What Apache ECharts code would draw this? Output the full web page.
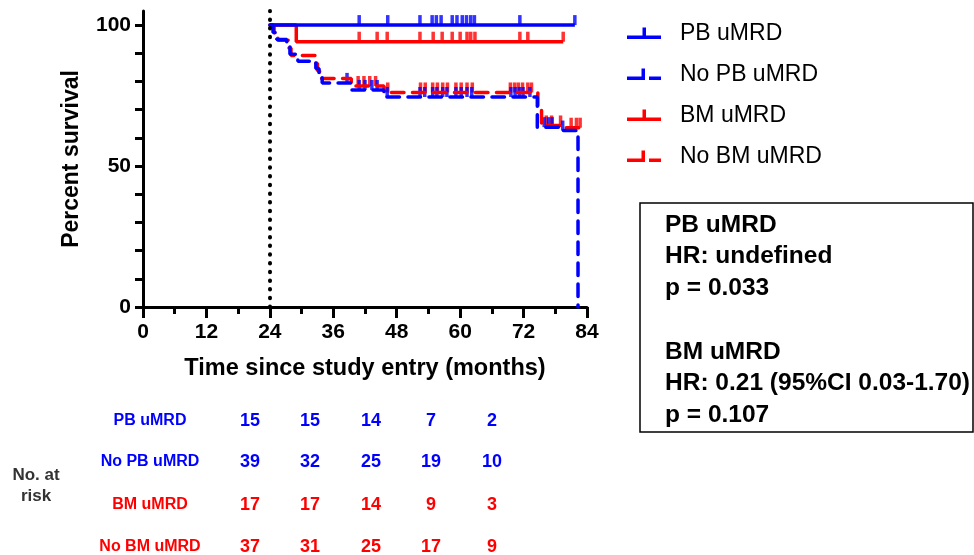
<!DOCTYPE html>
<html><head><meta charset="utf-8">
<script src="https://cdn.jsdelivr.net/npm/echarts@6/dist/echarts.min.js"></script>
<style>html,body{margin:0;padding:0;background:#fff}#c{width:974px;height:555px}</style>
</head><body><div id="c"></div>
<script>
const FONT = "'Liberation Sans', Arial, Helvetica, sans-serif";
const BLUE = '#0000ff', RED = '#ff0000';

// ---- axes ----
const xTickValues = [0, 12, 24, 36, 48, 60, 72, 84];
const yLabelValues = [0, 50, 100];
const yTickValues = [0, 10, 20, 30, 40, 50, 60, 70, 80, 90, 100];
const landmarkMonth = 24;

// ---- PB uMRD (blue solid) ----
const pbTime = [24, 81.7];
const pbSurv = [100, 100];
const pbCensor = [40.9, 46.3, 52.4, 54.7, 55.5, 56.4, 58.5, 59.4, 60.4, 61.2, 62.0, 62.7, 71.3, 81.7];

// ---- No PB uMRD (blue dashed) ----
const noPbTime = [24, 24.6, 25.3, 27.2, 27.8, 29.3, 32.7, 33.3, 33.9, 39.3, 45.6, 74.6, 79.2, 82.3];
const noPbSurv = [100, 97.4, 94.9, 92.3, 89.7, 87.2, 84.6, 82.1, 79.5, 77.0, 74.5, 63.8, 62.6, 0];
const noPbCensor = [38.6, 40.9, 42.0, 43.3, 44.3, 46.2, 52.4, 53.3, 54.8, 55.6, 56.7, 57.5, 59.2, 60.2, 61.3, 62.2, 69.6, 70.4, 71.2, 71.9, 73.2, 75.9, 76.7, 77.4, 79.4];

// ---- BM uMRD (red solid) ----
const bmTime = [24, 29.0, 79.5];
const bmSurv = [100, 94.1, 94.1];
const bmCensor = [40.9, 44.3, 46.2, 52.4, 54.9, 56.6, 58.5, 60.0, 61.3, 62.0, 62.8, 71.3, 72.8, 79.5];

// ---- No BM uMRD (red dashed) ----
const noBmTime = [24, 24.8, 25.5, 27.5, 28.0, 32.6, 33.0, 33.4, 39.4, 45.6, 74.7, 75.4, 79.2, 82.7];
const noBmSurv = [100, 97.3, 94.6, 91.9, 89.2, 86.5, 83.8, 81.1, 78.4, 76.1, 70.5, 64.4, 63.6, 63.6];
const noBmCensor = [40.7, 41.8, 42.9, 44.0, 46.3, 52.5, 53.4, 54.8, 55.7, 56.7, 57.6, 59.2, 60.2, 61.3, 62.3, 69.5, 70.3, 71.0, 71.8, 72.8, 73.5, 76.3, 77.3, 79.0, 81.0, 82.0, 82.7];

// ---- legend / names ----
const groupNames = ['PB uMRD', 'No PB uMRD', 'BM uMRD', 'No BM uMRD'];

// ---- number at risk ----
const riskLabels = ['PB uMRD', 'No PB uMRD', 'BM uMRD', 'No BM uMRD'];
const riskPB = [15, 15, 14, 7, 2];
const riskNoPB = [39, 32, 25, 19, 10];
const riskBM = [17, 17, 14, 9, 3];
const riskNoBM = [37, 31, 25, 17, 9];

// ---- stats box ----
const statsLines = ['PB uMRD', 'HR: undefined', 'p = 0.033', '', 'BM uMRD', 'HR: 0.21 (95%CI 0.03-1.70)', 'p = 0.107'];

function pairs(t, s) { return t.map((v, i) => [v, s[i]]); }
function survAt(t, s, x) {
  let v = s[0];
  for (let i = 0; i < t.length; i++) { if (t[i] <= x) v = s[i]; }
  return v;
}
function censorPts(t, s, c) { return c.map(x => [x, survAt(t, s, x)]); }

const DASH = [12.5, 8.5];
function kmLine(name, color, t, s, dashed, extra) {
  return Object.assign({
    name, type: 'line', step: 'end', data: pairs(t, s), showSymbol: false, symbol: 'none',
    color, clip: false, silent: true,
    lineStyle: { color, width: 3.5, type: dashed ? DASH : 'solid', cap: dashed ? 'round' : 'butt' },
    emphasis: { disabled: true }
  }, extra || {});
}
function censorSeries(name, color, t, s, c) {
  return {
    name, type: 'scatter', data: censorPts(t, s, c), symbol: 'rect', symbolSize: [3.5, 10],
    symbolOffset: [0, -5], color, itemStyle: { color }, silent: true, clip: false,
    emphasis: { disabled: true }
  };
}

const solidIcon = 'path://M0,8 L15.5,8 L15.5,0 L19,0 L19,8 L34,8 L34,11.5 L0,11.5 Z M48,12 L48,12';
const dashIcon = 'path://M0,8 L14.5,8 L14.5,0 L18,0 L18,11.5 L0,11.5 Z M22,8 L34,8 L34,11.5 L22,11.5 Z M48,12 L48,12';

const graphics = [];
graphics.push({ type: 'rect', shape: { x: 640, y: 203, width: 333, height: 229 }, style: { fill: '#fff', stroke: '#000', lineWidth: 1.5 }, silent: true });
graphics.push({ type: 'text', x: 665, y: 225 - 31.7 / 2, silent: true,
  style: { text: statsLines.join('\n'), fill: '#000', font: 'bold 24.5px ' + FONT, lineHeight: 31.7, align: 'left', verticalAlign: 'top' } });

const riskRows = [
  { label: riskLabels[0], values: riskPB, color: BLUE },
  { label: riskLabels[1], values: riskNoPB, color: BLUE },
  { label: riskLabels[2], values: riskBM, color: RED },
  { label: riskLabels[3], values: riskNoBM, color: RED }
];
const rowY = [421, 462, 505, 547];
const colX = [250, 310, 371, 431, 492];
riskRows.forEach((r, i) => {
  graphics.push({ type: 'text', x: 150, y: rowY[i], silent: true,
    style: { text: r.label, fill: r.color, font: 'bold 16px ' + FONT, align: 'center', verticalAlign: 'middle' } });
  r.values.forEach((v, j) => {
    graphics.push({ type: 'text', x: colX[j], y: rowY[i], silent: true,
      style: { text: String(v), fill: r.color, font: 'bold 18px ' + FONT, align: 'center', verticalAlign: 'middle' } });
  });
});
graphics.push({ type: 'text', x: 36, y: 486, silent: true,
  style: { text: 'No. at\nrisk', fill: '#333', font: 'bold 17px ' + FONT, lineHeight: 21, align: 'center', verticalAlign: 'middle' } });

const chart = echarts.init(document.getElementById('c'), null, { renderer: 'canvas' });
chart.setOption({
  animation: false,
  backgroundColor: '#fff',
  textStyle: { fontFamily: FONT },
  grid: { left: 143, right: 387, top: 11, bottom: 248, containLabel: false },
  xAxis: {
    type: 'value', min: 0, max: 84, interval: 12,
    axisLine: { show: true, lineStyle: { color: '#000', width: 3 } },
    axisTick: { show: true, length: 11, lineStyle: { color: '#000', width: 3 } },
    minorTick: { show: true, splitNumber: 2, length: 7, lineStyle: { color: '#000', width: 3 } },
    axisLabel: { color: '#000', fontSize: 21, fontWeight: 'bold', margin: 15, fontFamily: FONT },
    splitLine: { show: false }, minorSplitLine: { show: false },
    name: 'Time since study entry (months)', nameLocation: 'middle', nameGap: 50,
    nameTextStyle: { color: '#000', fontSize: 23.5, fontWeight: 'bold', fontFamily: FONT }
  },
  yAxis: {
    type: 'value', min: 0, max: 105,
    axisLine: { show: true, lineStyle: { color: '#000', width: 3 } },
    axisTick: { show: true, length: 8, customValues: yTickValues, lineStyle: { color: '#000', width: 3 } },
    axisLabel: { color: '#000', fontSize: 21, fontWeight: 'bold', margin: 12, customValues: yLabelValues, fontFamily: FONT },
    splitLine: { show: false },
    name: 'Percent survival', nameLocation: 'middle', nameGap: 60, nameRotate: 90,
    nameTextStyle: { color: '#000', fontSize: 23, fontWeight: 'bold', fontFamily: FONT }
  },
  legend: {
    orient: 'vertical', left: 622, top: 17, itemWidth: 48, itemHeight: 12, itemGap: 18,
    selectedMode: false,
    textStyle: { color: '#000', fontSize: 23, fontFamily: FONT },
    data: [
      { name: groupNames[0], icon: solidIcon, itemStyle: { color: BLUE, borderWidth: 0 } },
      { name: groupNames[1], icon: dashIcon, itemStyle: { color: BLUE, borderWidth: 0 } },
      { name: groupNames[2], icon: solidIcon, itemStyle: { color: RED, borderWidth: 0 } },
      { name: groupNames[3], icon: dashIcon, itemStyle: { color: RED, borderWidth: 0 } }
    ]
  },
  series: [
    kmLine(groupNames[2], RED, bmTime, bmSurv, false),
    censorSeries(groupNames[2], RED, bmTime, bmSurv, bmCensor),
    kmLine(groupNames[3], RED, noBmTime, noBmSurv, true),
    censorSeries(groupNames[3], RED, noBmTime, noBmSurv, noBmCensor),
    kmLine(groupNames[0], BLUE, pbTime, pbSurv, false, {
      markLine: {
        silent: true, symbol: ['none', 'none'], label: { show: false }, emphasis: { disabled: true },
        lineStyle: { color: '#000', width: 4, type: [0.5, 8.2], cap: 'round' },
        data: [{ xAxis: landmarkMonth }]
      }
    }),
    censorSeries(groupNames[0], BLUE, pbTime, pbSurv, pbCensor),
    kmLine(groupNames[1], BLUE, noPbTime, noPbSurv, true),
    censorSeries(groupNames[1], BLUE, noPbTime, noPbSurv, noPbCensor)
  ],
  graphic: graphics
});
</script></body></html>
